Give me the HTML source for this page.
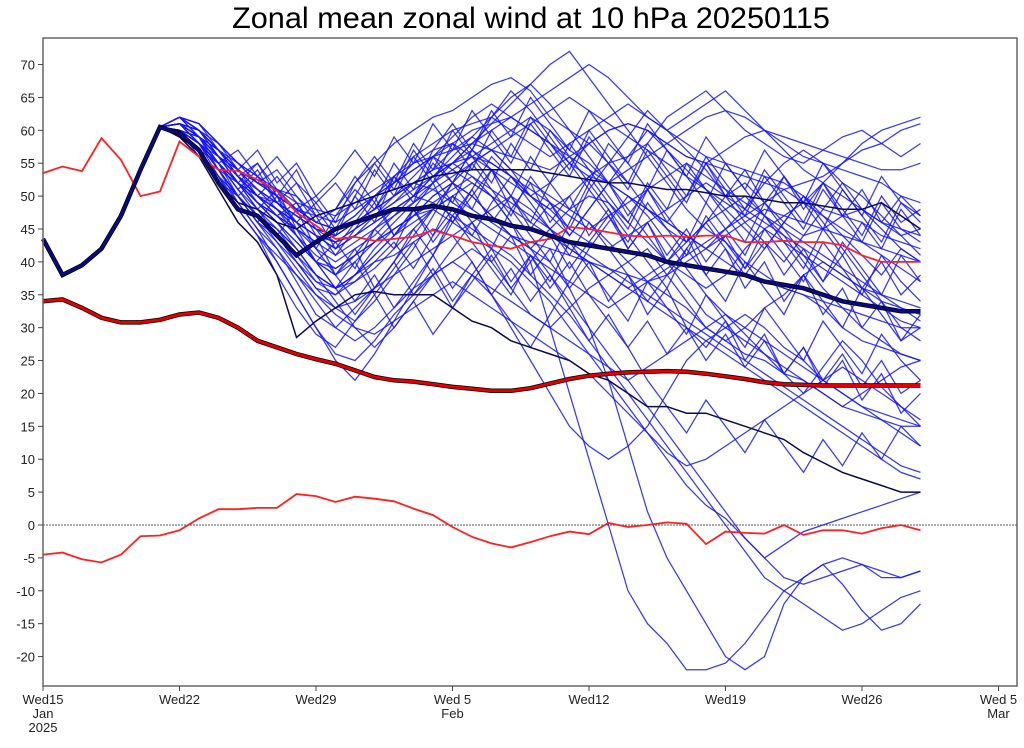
<!DOCTYPE html>
<html><head><meta charset="utf-8"><style>
body{margin:0;background:#fff;width:1024px;height:743px;overflow:hidden}
svg text{font-family:"Liberation Sans",sans-serif}
</style></head><body>
<svg id="chart" width="1024" height="743" viewBox="0 0 1024 743">
<text x="531" y="28" font-size="30" text-anchor="middle" textLength="598" lengthAdjust="spacingAndGlyphs">Zonal mean zonal wind at 10 hPa 20250115</text>
<g id="grid"></g><g id="members"></g><g id="specials"></g><g id="axes"></g>
</svg>
<script>
const xTickLabels=["Wed15","Wed22","Wed29","Wed 5","Wed12","Wed19","Wed26","Wed 5"];
const xTickSub=[["Jan","2025"],[],[],["Feb"],[],[],[],["Mar"]];
const xTickDays=[0,7,14,21,28,35,42,49];
const yTicks=[-20,-15,-10,-5,0,5,10,15,20,25,30,35,40,45,50,55,60,65,70];
const head=[43.5,38,39.5,42,47,54,60.5];
const memberTails=[
[61,60,57,53,50,48,45,43,44,46,48,52,55,57,58,56,54,52,50,52,55,58,60,61,60,58,56,55,57,59,60,58,56,55,54,53,52,50,49],
[62,61,58,55,52,51,50,47,48,52,55,58,60,62,63,65,67,68,66,62,60,58,55,56,58,62,64,66,63,60,58,56,55,57,59,60,58,56,58],
[60,59,55,50,46,44,40,36,35,38,42,45,47,50,52,55,57,54,50,48,50,53,55,52,48,45,43,46,50,52,49,46,44,45,47,48,46,44,45],
[61,58,54,49,45,42,37,32,30,33,36,40,44,48,52,50,47,44,42,45,48,50,49,46,43,40,38,36,38,42,45,47,49,52,55,58,60,61,62],
[60,57,53,50,47,45,42,38,36,38,40,41,43,45,44,40,35,30,25,20,15,12,10,12,15,20,25,28,30,32,30,27,25,22,20,18,17,16,15],
[62,60,56,52,49,47,44,40,38,41,45,48,50,53,55,58,60,62,64,66,68,70,68,65,62,60,62,64,66,63,60,57,54,52,50,48,46,45,44],
[59,57,53,48,44,40,35,30,26,25,28,32,35,38,40,42,40,36,32,30,33,36,38,40,42,38,34,30,28,30,33,35,38,40,38,36,34,33,32],
[61,59,56,53,50,49,47,45,44,46,48,50,52,53,55,56,55,53,50,48,45,43,42,44,46,48,50,52,50,48,46,44,42,40,38,36,35,34,33],
[60,58,55,52,49,46,43,40,38,40,43,46,49,52,55,58,61,64,67,70,72,68,64,60,56,52,48,45,43,40,38,36,35,33,30,28,27,26,25],
[62,61,57,54,51,49,46,44,43,45,47,49,52,54,57,59,57,54,52,50,48,46,43,40,37,35,33,30,28,26,25,23,22,20,18,17,16,15,15],
[61,58,54,50,46,43,40,37,36,38,41,44,47,50,52,50,47,44,42,40,36,30,22,12,2,-5,-10,-15,-20,-22,-20,-12,-8,-6,-9,-13,-16,-15,-12],
[60,58,54,50,47,45,42,38,36,38,41,44,46,48,50,52,50,46,40,30,20,10,0,-10,-15,-18,-22,-22,-21,-18,-14,-10,-8,-6,-5,-6,-8,-8,-7],
[61,59,55,52,49,47,45,43,44,46,48,50,52,54,55,53,50,46,42,38,34,30,26,22,18,14,10,6,2,-2,-5,-3,-1,0,1,2,3,4,5],
[60,58,55,52,50,48,46,44,43,44,46,48,50,52,54,56,58,60,62,60,57,55,52,50,48,46,44,42,45,48,52,55,57,55,52,48,45,42,40],
[62,60,56,53,50,48,45,42,40,42,44,47,50,53,56,59,62,65,67,64,60,56,52,48,44,40,36,32,30,28,26,24,22,20,18,20,22,24,25],
[61,59,56,53,50,48,46,44,42,44,46,48,50,49,47,45,43,41,38,35,32,28,24,20,16,12,8,4,0,-4,-8,-10,-12,-14,-16,-15,-13,-11,-10],
[60,57,53,50,47,44,41,38,36,37,39,42,45,48,46,44,42,40,37,34,30,26,22,18,14,10,6,3,1,-2,-5,-8,-9,-8,-7,-6,-7,-8,-7],
[61,59,56,54,52,50,48,46,45,47,50,53,56,58,60,61,62,60,58,56,58,60,62,64,62,60,58,56,55,54,53,52,50,48,47,46,44,43,42],
[59,56,52,48,44,41,38,35,33,34,36,38,40,42,44,46,48,50,48,45,42,40,38,36,38,40,43,46,48,50,47,44,40,36,33,30,28,26,25],
[62,60,57,54,52,50,48,47,46,48,50,52,54,56,58,60,61,62,60,58,55,53,52,54,56,58,60,62,63,62,60,59,58,57,56,55,54,54,55],
[60,58,54,50,46,42,38,34,30,28,30,33,36,38,40,38,36,34,32,30,28,26,24,22,24,26,28,30,32,30,28,26,24,22,20,18,16,14,12],
[61,59,56,52,49,46,43,40,39,41,43,45,47,48,50,48,46,44,43,42,41,40,39,38,37,38,40,42,44,46,48,47,46,45,44,43,42,41,40],
[60,58,55,52,50,48,46,44,42,44,47,50,53,56,59,62,64,62,60,58,56,54,52,50,48,46,44,42,40,38,37,36,35,34,33,32,31,30,30],
[62,61,58,55,53,51,49,48,47,49,51,53,55,56,57,58,57,56,55,54,56,58,60,61,60,58,56,55,54,53,52,51,52,53,55,57,58,60,61],
[61,58,55,51,47,43,39,35,32,30,29,31,33,35,37,35,33,31,29,27,25,23,20,17,14,11,9,10,12,14,16,18,20,22,24,22,20,18,16],
[60,59,56,53,51,49,47,45,43,45,47,49,51,53,55,57,55,53,51,49,47,45,47,49,51,53,55,53,51,49,47,45,43,41,39,37,35,33,31],
[61,60,57,54,51,49,47,45,44,46,48,50,52,51,49,47,45,43,41,39,37,35,33,35,37,39,41,43,45,47,49,51,49,47,45,43,41,39,37],
[62,60,57,54,52,50,48,46,45,47,50,52,54,56,54,52,50,48,46,44,42,40,38,36,34,32,30,28,26,24,22,20,18,16,14,12,10,8,7],
[60,58,55,52,49,47,45,43,41,43,45,47,49,51,53,55,57,59,61,63,65,63,61,59,57,55,53,51,49,47,45,43,41,39,37,35,33,31,30],
[61,59,56,53,50,47,44,41,39,41,43,45,47,49,51,53,51,49,47,45,43,41,39,37,35,33,31,29,27,25,23,21,19,17,15,13,11,9,8],
[60,57,52,50,53,49,46,42,47,51,48,53,50,55,52,57,54,50,56,52,48,53,49,45,51,47,43,49,45,41,47,43,39,45,41,46,42,48,44],
[61,58,55,57,53,50,54,48,44,50,46,53,49,56,52,48,54,50,46,52,58,54,50,46,52,48,55,51,47,43,49,45,41,37,43,39,35,41,37],
[62,59,54,52,48,51,45,40,43,39,45,42,48,44,50,46,42,48,44,40,46,52,48,44,40,36,42,38,34,40,36,32,38,34,30,36,32,28,30],
[60,58,56,53,55,51,48,50,46,52,56,52,58,54,60,56,52,58,54,60,56,52,58,55,51,57,53,49,55,51,47,53,49,45,51,47,43,49,46],
[61,60,56,54,50,47,49,44,38,42,36,40,45,41,47,43,39,35,41,37,43,39,35,31,37,33,29,35,31,27,33,29,25,31,27,23,29,25,22],
[59,57,55,51,54,49,52,47,42,46,50,44,48,52,46,50,54,48,52,46,50,44,48,42,46,40,44,38,42,36,40,34,38,32,36,30,34,28,32],
[62,60,57,55,52,54,50,46,48,53,49,55,51,57,61,57,63,59,65,61,57,63,59,55,61,57,53,59,55,51,57,53,49,55,51,47,53,49,47],
[60,56,54,50,46,50,44,40,36,40,35,39,43,38,42,46,40,44,38,42,36,40,34,38,32,36,30,27,31,25,29,23,27,21,25,19,23,17,20],
[61,59,57,54,57,52,55,50,53,57,53,59,55,61,57,63,59,55,61,57,53,59,55,51,57,53,49,55,51,47,53,49,45,51,47,43,49,45,43],
[60,58,53,48,44,38,33,29,27,31,35,30,34,38,33,37,41,36,40,44,39,43,47,42,46,41,45,40,44,39,43,38,42,37,41,36,40,35,38],
[62,61,58,55,53,56,52,49,52,48,54,50,56,52,58,54,60,56,62,58,54,60,56,52,58,54,50,56,52,48,54,50,46,52,48,44,50,46,48],
[61,58,55,52,48,44,48,42,38,34,38,33,37,41,36,40,35,39,34,38,33,28,32,27,31,26,30,25,29,24,28,23,27,22,26,21,25,20,22],
[60,59,56,52,55,50,46,49,45,50,55,51,57,53,49,55,51,47,53,49,45,51,47,43,49,45,41,47,43,39,45,41,37,43,39,35,41,37,34],
[62,59,57,53,50,53,49,45,41,45,49,44,48,43,47,51,46,50,45,49,44,48,52,47,51,46,50,55,50,54,49,53,48,52,47,51,46,50,47],
[61,60,58,54,51,48,44,40,36,32,36,40,35,39,34,38,42,37,41,36,40,35,31,27,22,18,14,19,15,11,16,12,8,13,9,14,10,15,12],
[60,57,53,49,45,40,35,30,25,22,26,31,36,41,46,51,56,53,50,47,44,48,52,56,60,57,54,51,48,45,42,46,50,47,44,41,38,42,40],
[61,58,54,50,47,44,40,36,33,31,34,38,42,47,52,57,62,66,63,59,55,51,55,59,63,60,57,54,50,46,43,40,44,48,52,50,47,44,41],
[62,60,57,53,49,46,42,38,34,30,27,30,34,29,33,38,35,31,27,32,37,42,46,50,47,43,39,35,32,29,26,23,20,24,28,25,21,18,15],
[60,58,55,51,48,45,41,37,35,37,40,43,39,44,48,44,49,53,49,45,41,46,42,38,34,38,42,46,42,38,42,46,50,46,42,38,34,30,28]
];
const ensMean=[43.5,38,39.5,42,47,54,60.5,59.5,57,52,48,47,44,41,43,45,46,47,48,48,48.5,48,47,46.5,45.5,45,44,43,42.5,42,41.5,41,40,39.5,39,38.5,38,37,36.5,36,35,34,33.5,33,32.5,32.5];
const ctrlUpper=[43.5,38,39.5,42,47,54,60.5,60,57,52,49,48,46,45,47,48,49,50,51,52,53,53.5,54,54,54,54,53.5,53,52.5,52,52,51.5,51,51,50.5,50,50,49.5,49,49,48.5,48,48,49,47,45];
const ctrlLower=[43.5,38,39.5,42,47,54,60.5,59,56,51,46,43,38,28.5,31,33,35,35.5,35,35,35,33,31,30,28,27,26,25,23,22,20,18,18,17,17,16,15,14,13,11,9.5,8,7,6,5,5];
const climMean=[34,34.3,33,31.5,30.8,30.8,31.2,32,32.3,31.5,30,28,27,26,25.2,24.5,23.5,22.5,22,21.8,21.4,21,20.7,20.4,20.4,20.8,21.5,22.2,22.7,23,23.2,23.3,23.4,23.3,23,22.6,22.2,21.7,21.4,21.3,21.2,21.2,21.2,21.2,21.2,21.2];
const climMax=[53.5,54.5,53.8,58.8,55.5,50,50.7,58.3,56,54,53.8,52.5,50.8,47.5,45.5,43.5,43.8,43.2,43.5,43.8,44.8,44,43,42.5,42,43,43.5,45.3,45,44.5,44,43.8,44,43.8,44,44,43,43,43.2,43,43,42.5,41,40,40,40];
const climMin=[-4.5,-4.2,-5.2,-5.7,-4.5,-1.7,-1.6,-0.8,1,2.4,2.4,2.6,2.6,4.7,4.4,3.5,4.3,4,3.6,2.5,1.5,-0.3,-1.8,-2.8,-3.4,-2.6,-1.7,-1,-1.4,0.3,-0.3,0,0.4,0.2,-2.9,-1,-1.2,-1.3,0,-1.5,-0.8,-0.8,-1.3,-0.5,0,-0.8];

const NS="http://www.w3.org/2000/svg";
const X0=43,X1=1017,Y0=38,Y1=686,DX=19.5;
const xS=d=>X0+d*DX;
const yS=v=>525-v*6.578;
function mk(tag,attrs,parent){const e=document.createElementNS(NS,tag);for(const k in attrs)e.setAttribute(k,attrs[k]);parent.appendChild(e);return e;}
function pts(arr){return arr.map((v,i)=>xS(i).toFixed(1)+","+yS(v).toFixed(1)).join(" ");}
const grid=document.getElementById("grid"),mem=document.getElementById("members"),sp=document.getElementById("specials"),ax=document.getElementById("axes");
const zl=mk("line",{x1:X0,x2:X1,y1:yS(0),y2:yS(0),stroke:"#555","stroke-width":1,"stroke-dasharray":"2,1"},grid);


memberTails.forEach((t,i)=>{
  const p=mk("polyline",{points:pts(head.concat(t)),fill:"none",stroke:"#1414ff","stroke-width":1.25,"stroke-opacity":0.85},mem);
  
  
});
function special(arr,name,color,w,outline){
  if(outline){const o=mk("polyline",{points:pts(arr),fill:"none",stroke:"#000","stroke-width":w+1.5},sp);
    
    }
  const p=mk("polyline",{points:pts(arr),fill:"none",stroke:color,"stroke-width":w},sp);
  
  
}
special(ctrlUpper,"control-run-upper","#0a0a50",1.5,false);
special(ctrlLower,"control-run-lower","#0a0a50",1.5,false);
special(climMax,"climatology-max","#ff2020",1.8,false);
special(climMin,"climatology-min","#ff2020",1.8,false);
special(climMean,"climatology-mean","#e00000",3,true);
special(ensMean,"ensemble-mean","#0a0a80",3,true);
const fr=mk("rect",{x:X0,y:Y0,width:X1-X0,height:Y1-Y0,fill:"none",stroke:"#666","stroke-width":1.5},ax);


yTicks.forEach(v=>{
  const t=mk("line",{x1:X0-5,x2:X0,y1:yS(v),y2:yS(v),stroke:"#444","stroke-width":1},ax);
  
  
  const l=mk("text",{x:X0-8,y:yS(v)+5,"font-size":13,"text-anchor":"end",fill:"#222"},ax);
  
  
  l.textContent=v;
});
xTickDays.forEach((d,i)=>{
  const t=mk("line",{x1:xS(d),x2:xS(d),y1:Y1,y2:Y1+5,stroke:"#444","stroke-width":1},ax);
  
  
  const lines=[xTickLabels[i]].concat(xTickSub[i]);
  lines.forEach((s,j)=>{
    const l=mk("text",{x:xS(d),y:Y1+18+j*14,"font-size":13,"text-anchor":"middle",fill:"#222"},ax);
    
    
    l.textContent=s;
  });
});
</script>
</body></html>
